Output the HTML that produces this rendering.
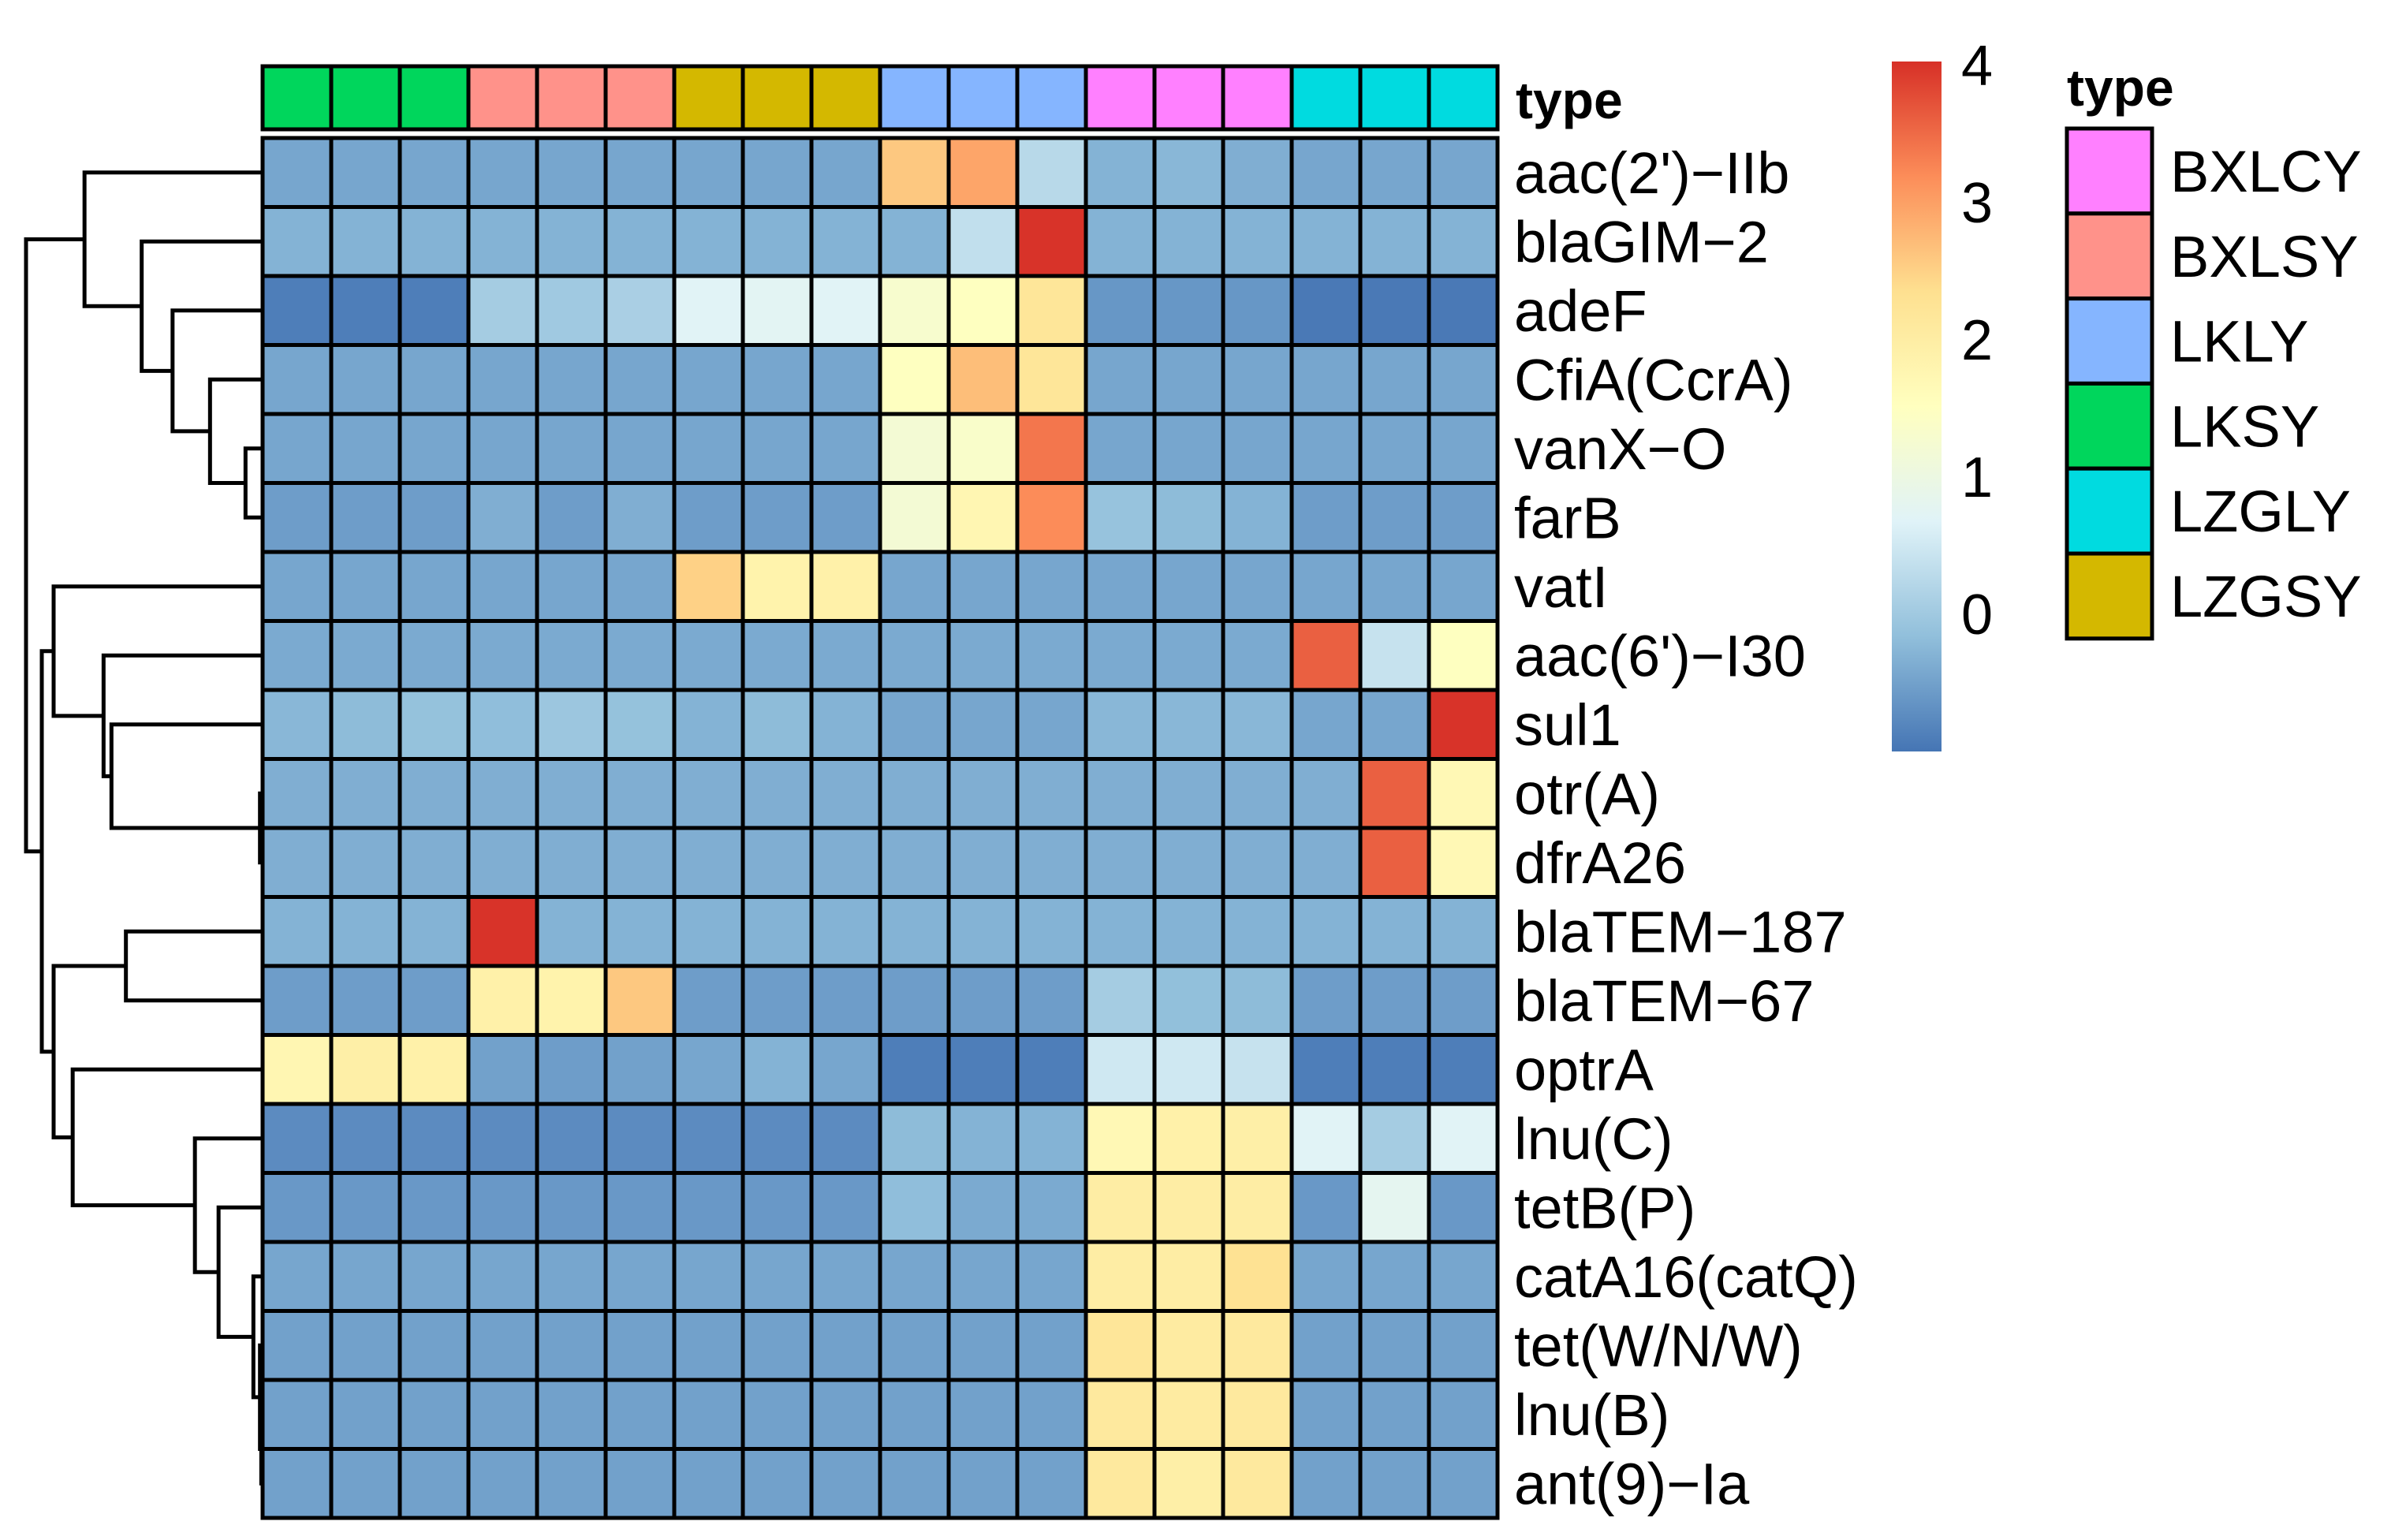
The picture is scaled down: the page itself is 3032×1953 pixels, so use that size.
<!DOCTYPE html>
<html><head><meta charset="utf-8"><style>
html,body{margin:0;padding:0;background:#fff;}
svg{display:block;font-family:"Liberation Sans",Arial,sans-serif;}
</style></head><body>
<svg id="chart" width="3032" height="1953" viewBox="0 0 3032 1953" xmlns="http://www.w3.org/2000/svg">
<defs>
<linearGradient id="cbgrad" x1="0" y1="1" x2="0" y2="0">
<stop offset="0" stop-color="#4575b4"/><stop offset="0.1667" stop-color="#91bfdb"/><stop offset="0.3333" stop-color="#e0f3f8"/><stop offset="0.5" stop-color="#ffffbf"/><stop offset="0.6667" stop-color="#fee090"/><stop offset="0.8333" stop-color="#fc8d59"/><stop offset="1" stop-color="#d73027"/>
</linearGradient>
</defs>
<g id="dendro"></g>
<g id="anno"></g>
<g id="cells"></g>
<g id="rowlabels"></g>
<text x="1922" y="150" font-size="66" font-weight="bold">type</text>
<g>
<rect x="2399" y="78" width="63" height="875" fill="url(#cbgrad)"/>
</g>
<g id="cbticks"></g>
<text x="2621" y="134" font-size="66" font-weight="bold">type</text>
<g id="legend"></g>
</svg>
<script>
const rowNames = ["aac(2')−IIb","blaGIM−2","adeF","CfiA(CcrA)","vanX−O","farB","vatI","aac(6')−I30","sul1","otr(A)","dfrA26","blaTEM−187","blaTEM−67","optrA","lnu(C)","tetB(P)","catA16(catQ)","tet(W/N/W)","lnu(B)","ant(9)−Ia"];
const colTypes = ["LKSY","LKSY","LKSY","BXLSY","BXLSY","BXLSY","LZGSY","LZGSY","LZGSY","LKLY","LKLY","LKLY","BXLCY","BXLCY","BXLCY","LZGLY","LZGLY","LZGLY"];
const legendTypes = ["BXLCY","BXLSY","LKLY","LKSY","LZGLY","LZGSY"];
const typeColors = {BXLCY:"#ff80ff",BXLSY:"#ff928a",LKLY:"#85b5ff",LKSY:"#00d65c",LZGLY:"#00dbe0",LZGSY:"#d4b800"};
const cbTicks = [0,1,2,3,4];
const r0 = [-0.45,-0.45,-0.45,-0.45,-0.45,-0.45,-0.45,-0.45,-0.45,2.6,2.95,0.25,-0.3,-0.25,-0.35,-0.45,-0.45,-0.45];
const r1 = [-0.3,-0.3,-0.3,-0.3,-0.3,-0.3,-0.3,-0.3,-0.3,-0.3,0.35,4,-0.3,-0.3,-0.3,-0.3,-0.3,-0.3];
const r2 = [-0.9,-0.9,-0.9,0.05,0.0,0.1,0.7,0.75,0.7,1.3,1.5,2.2,-0.62,-0.62,-0.62,-0.95,-0.95,-0.95];
const r3 = [-0.45,-0.45,-0.45,-0.45,-0.45,-0.45,-0.45,-0.45,-0.45,1.5,2.7,2.2,-0.45,-0.45,-0.45,-0.45,-0.45,-0.45];
const r4 = [-0.45,-0.45,-0.45,-0.45,-0.45,-0.45,-0.45,-0.45,-0.45,1.2,1.35,3.4,-0.45,-0.45,-0.45,-0.45,-0.45,-0.45];
const r5 = [-0.55,-0.55,-0.55,-0.35,-0.55,-0.35,-0.55,-0.55,-0.55,1.2,1.75,3.2,-0.1,-0.2,-0.3,-0.55,-0.55,-0.55];
const r6 = [-0.45,-0.45,-0.45,-0.45,-0.45,-0.45,2.5,1.85,1.9,-0.45,-0.45,-0.45,-0.45,-0.45,-0.45,-0.45,-0.45,-0.45];
const r7 = [-0.4,-0.4,-0.4,-0.4,-0.4,-0.4,-0.4,-0.4,-0.4,-0.4,-0.4,-0.4,-0.4,-0.4,-0.4,3.6,0.4,1.5];
const r8 = [-0.25,-0.2,-0.12,-0.17,-0.05,-0.12,-0.3,-0.2,-0.3,-0.45,-0.45,-0.45,-0.25,-0.25,-0.25,-0.45,-0.45,4];
const r9 = [-0.35,-0.35,-0.35,-0.35,-0.35,-0.35,-0.35,-0.35,-0.35,-0.35,-0.35,-0.35,-0.35,-0.35,-0.35,-0.35,3.6,1.7];
const r10 = [-0.35,-0.35,-0.35,-0.35,-0.35,-0.35,-0.35,-0.35,-0.35,-0.35,-0.35,-0.35,-0.35,-0.35,-0.35,-0.35,3.6,1.7];
const r11 = [-0.3,-0.3,-0.3,4,-0.3,-0.3,-0.3,-0.3,-0.3,-0.3,-0.3,-0.3,-0.3,-0.3,-0.3,-0.3,-0.3,-0.3];
const r12 = [-0.55,-0.55,-0.55,1.9,1.85,2.6,-0.55,-0.55,-0.55,-0.55,-0.55,-0.55,0.05,-0.15,-0.2,-0.55,-0.55,-0.55];
const r13 = [1.75,1.95,1.9,-0.5,-0.55,-0.5,-0.45,-0.3,-0.45,-0.9,-0.9,-0.9,0.5,0.5,0.4,-0.9,-0.9,-0.9];
const r14 = [-0.75,-0.75,-0.75,-0.75,-0.75,-0.75,-0.75,-0.75,-0.75,-0.2,-0.3,-0.3,1.7,1.9,1.95,0.7,0.05,0.7];
const r15 = [-0.6,-0.6,-0.6,-0.6,-0.6,-0.6,-0.6,-0.6,-0.6,-0.17,-0.4,-0.4,2.0,2.0,2.0,-0.6,0.8,-0.6];
const r16 = [-0.45,-0.45,-0.45,-0.45,-0.45,-0.45,-0.45,-0.45,-0.45,-0.45,-0.45,-0.45,2.0,2.0,2.3,-0.45,-0.45,-0.45];
const r17 = [-0.5,-0.5,-0.5,-0.5,-0.5,-0.5,-0.5,-0.5,-0.5,-0.5,-0.5,-0.5,2.2,2.05,2.1,-0.5,-0.5,-0.5];
const r18 = [-0.5,-0.5,-0.5,-0.5,-0.5,-0.5,-0.5,-0.5,-0.5,-0.5,-0.5,-0.5,2.1,2.05,2.1,-0.5,-0.5,-0.5];
const r19 = [-0.5,-0.5,-0.5,-0.5,-0.5,-0.5,-0.5,-0.5,-0.5,-0.5,-0.5,-0.5,2.1,1.95,2.1,-0.5,-0.5,-0.5];
const values = [r0,r1,r2,r3,r4,r5,r6,r7,r8,r9,r10,r11,r12,r13,r14,r15,r16,r17,r18,r19];
// dendrogram merges: [left, right, height]; negative = leaf index (1-based), positive = merge id (1-based)
const merges = [[-19,-20,0.02],[-18,1,0.04],[-10,-11,0.04],[-5,-6,0.26],[-17,2,0.14],[-4,4,0.8],[-16,5,0.67],[-9,3,2.3],[-15,7,1.03],[-3,6,1.37],[-8,8,2.42],[-12,-13,2.08],[-14,9,2.89],[-2,10,1.84],[-7,11,3.18],[12,13,3.18],[-1,14,2.71],[15,16,3.36],[17,18,3.6]];

const SVGNS="http://www.w3.org/2000/svg";
const HX=333, HY=175, CW=87.0, RH=87.5, VMIN=-1, VMAX=4.03;
const stops=["#4575b4","#91bfdb","#e0f3f8","#ffffbf","#fee090","#fc8d59","#d73027"];
function hex(c){return [1,3,5].map(i=>parseInt(c.substr(i,2),16));}
function colorScale(v){let t=(v-VMIN)/(VMAX-VMIN);t=Math.max(0,Math.min(1,t))*(stops.length-1);let i=Math.min(Math.floor(t),stops.length-2);let f=t-i;let a=hex(stops[i]),b=hex(stops[i+1]);return "rgb("+a.map((x,k)=>Math.round(x+(b[k]-x)*f)).join(",")+")";}
function xPos(c){return HX+c*CW;}
function yPos(r){return HY+r*RH;}
function cbY(v){return 953-(v-VMIN)/(VMAX-VMIN)*875;}
function mk(tag,attrs,parent){const e=document.createElementNS(SVGNS,tag);for(const k in attrs)e.setAttribute(k,attrs[k]);parent.appendChild(e);return e;}

const cells=document.getElementById('cells');
values.forEach((row,r)=>row.forEach((v,c)=>{
  const el=mk('rect',{x:xPos(c),y:yPos(r),width:CW,height:RH,fill:colorScale(v),stroke:"#000","stroke-width":5},cells);
  
  
}));
const anno=document.getElementById('anno');
colTypes.forEach((t,c)=>{
  const el=mk('rect',{x:xPos(c),y:HY-91,width:CW,height:80,fill:typeColors[t],stroke:"#000","stroke-width":5},anno);
  
  
});
const rl=document.getElementById('rowlabels');
rowNames.forEach((n,r)=>{
  const el=mk('text',{x:1920,y:yPos(r)+RH/2+26,"font-size":74},rl);
  el.textContent=n;
  
  
});
const cbt=document.getElementById('cbticks');
cbTicks.forEach(v=>{
  const el=mk('text',{x:2487,y:cbY(v)+25,"font-size":72},cbt);
  el.textContent=String(v);
  
  
});
const lg=document.getElementById('legend');
legendTypes.forEach((t,i)=>{
  const y=163+i*107.8;
  const el=mk('rect',{x:2621,y:y,width:108,height:107.8,fill:typeColors[t],stroke:"#000","stroke-width":5},lg);
  
  
  const tx=mk('text',{x:2752,y:y+80,"font-size":74},lg);
  tx.textContent=t;
  
  
});
const dg=document.getElementById('dendro');
const MAXH=3.6, DX0=33, DX1=333;
function hx(h){return DX1-(h/MAXH)*(DX1-DX0);}
const nodes={};
function pos(id){ if(id<0){return {y:yPos(-id-1)+RH/2,h:0};} return nodes[id]; }
merges.forEach((m,i)=>{
  const a=pos(m[0]),b=pos(m[1]),x=hx(m[2]);
  const p=mk('path',{d:`M${hx(a.h)},${a.y}H${x}V${b.y}H${hx(b.h)}`,fill:"none",stroke:"#000","stroke-width":5},dg);
  
  
  nodes[i+1]={y:(a.y+b.y)/2,h:m[2]};
});
</script>
</body></html>
